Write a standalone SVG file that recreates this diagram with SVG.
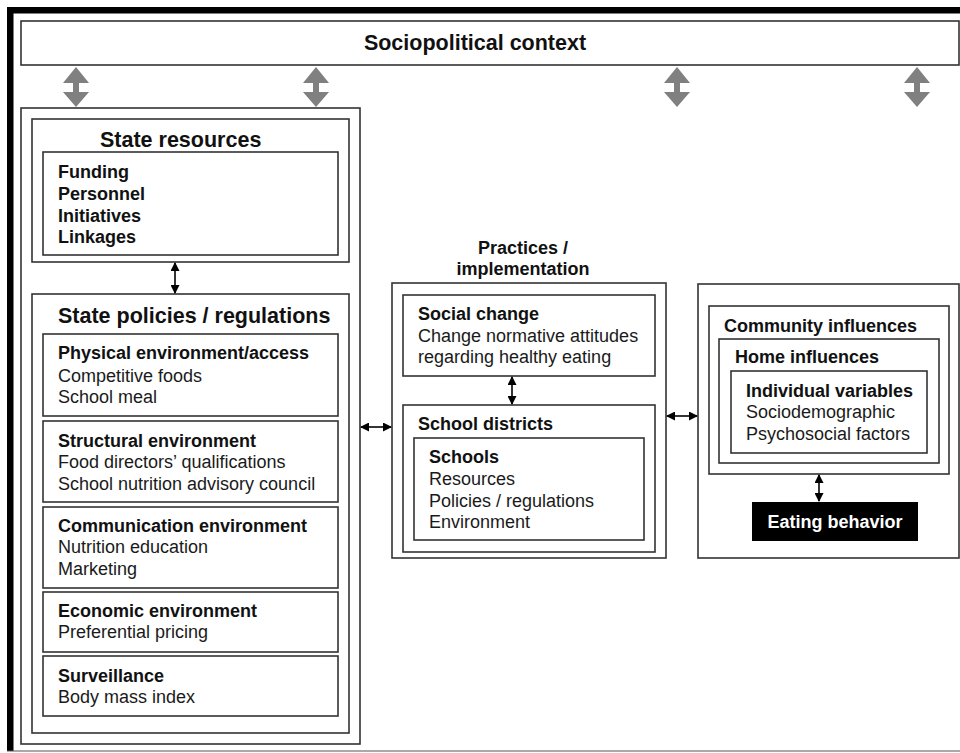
<svg xmlns="http://www.w3.org/2000/svg" width="960" height="753" viewBox="0 0 960 753">
<style>
  text { font-family: "Liberation Sans", Arial, sans-serif; fill: #111; }
  .title { font-size: 21.5px; font-weight: bold; }
  .head { font-size: 18px; font-weight: bold; }
  .body { font-size: 18px; fill: #1a1a1a; }
  .box { fill: #fff; stroke: #333; stroke-width: 1.6; }
  .conn { stroke: #000; stroke-width: 1.6; fill: none; marker-start: url(#ah); marker-end: url(#ah); }
  .gray { fill: #808080; }
</style>
<defs>
  <marker id="ah" markerUnits="userSpaceOnUse" markerWidth="9" markerHeight="9" refX="8" refY="4.5" orient="auto-start-reverse">
    <path d="M0,0 L9,4.5 L0,9 Z" fill="#000"/>
  </marker>
  <path id="garrow" d="M0,67 L13,83 L3,83 L3,92 L13,92 L0,107 L-13,92 L-3,92 L-3,83 L-13,83 Z"/>
</defs>
<rect width="960" height="753" fill="#fff"/>
<g id="frame">
  <rect x="7" y="7" width="953" height="6.5" fill="#000"/>
  <rect x="7" y="7" width="6.5" height="744" fill="#000"/>
  <line x1="7" y1="751" x2="960" y2="751" stroke="#555" stroke-width="1.2"/>
</g>
<g id="sociopolitical">
  <rect class="box" x="21" y="21" width="938" height="44"/>
  <text class="title" x="475" y="50" text-anchor="middle">Sociopolitical context</text>
</g>
<g id="state-column">
  <rect class="box" x="21" y="108" width="339" height="636"/>
</g>
<g id="state-resources">
  <rect class="box" x="32" y="119" width="317" height="143"/>
  <text class="title" x="100" y="147">State resources</text>
  <rect class="box" x="43" y="152" width="295" height="103"/>
  <text class="head" x="58" y="178">Funding</text>
  <text class="head" x="58" y="200">Personnel</text>
  <text class="head" x="58" y="222">Initiatives</text>
  <text class="head" x="58" y="243">Linkages</text>
</g>
<g id="state-policies">
  <rect class="box" x="32" y="294" width="317" height="439"/>
  <text class="title" x="58" y="323">State policies / regulations</text>
</g>
<g id="physical">
  <rect class="box" x="43" y="334" width="295" height="82"/>
  <text class="head" x="58" y="359">Physical environment/access</text>
  <text class="body" x="58" y="382">Competitive foods</text>
  <text class="body" x="58" y="403">School meal</text>
</g>
<g id="structural">
  <rect class="box" x="43" y="421" width="295" height="81"/>
  <text class="head" x="58" y="447">Structural environment</text>
  <text class="body" x="58" y="468">Food directors’ qualifications</text>
  <text class="body" x="58" y="490">School nutrition advisory council</text>
</g>
<g id="communication">
  <rect class="box" x="43" y="507" width="295" height="81"/>
  <text class="head" x="58" y="532">Communication environment</text>
  <text class="body" x="58" y="553">Nutrition education</text>
  <text class="body" x="58" y="575">Marketing</text>
</g>
<g id="economic">
  <rect class="box" x="43" y="592" width="295" height="60"/>
  <text class="head" x="58" y="617">Economic environment</text>
  <text class="body" x="58" y="638">Preferential pricing</text>
</g>
<g id="surveillance">
  <rect class="box" x="43" y="656" width="295" height="60"/>
  <text class="head" x="58" y="682">Surveillance</text>
  <text class="body" x="58" y="703">Body mass index</text>
</g>
<g id="practices">
  <text class="head" x="523" y="254" text-anchor="middle">Practices /</text>
  <text class="head" x="523" y="275" text-anchor="middle">implementation</text>
  <rect class="box" x="392" y="283" width="274" height="275"/>
</g>
<g id="social-change">
  <rect class="box" x="403" y="295" width="252" height="81"/>
  <text class="head" x="418" y="320">Social change</text>
  <text class="body" x="418" y="342">Change normative attitudes</text>
  <text class="body" x="418" y="363">regarding healthy eating</text>
</g>
<g id="school-districts">
  <rect class="box" x="403" y="405" width="252" height="147"/>
  <text class="head" x="418" y="430">School districts</text>
</g>
<g id="schools">
  <rect class="box" x="414" y="438" width="230" height="102"/>
  <text class="head" x="429" y="463">Schools</text>
  <text class="body" x="429" y="485">Resources</text>
  <text class="body" x="429" y="507">Policies / regulations</text>
  <text class="body" x="429" y="528">Environment</text>
</g>
<g id="outcomes">
  <rect class="box" x="698" y="284" width="261" height="274"/>
</g>
<g id="community">
  <rect class="box" x="709" y="306" width="240" height="168"/>
  <text class="head" x="724" y="332">Community influences</text>
</g>
<g id="home">
  <rect class="box" x="719" y="339" width="220" height="124"/>
  <text class="head" x="735" y="363">Home influences</text>
</g>
<g id="individual">
  <rect class="box" x="731" y="371" width="196" height="82"/>
  <text class="head" x="746" y="397">Individual variables</text>
  <text class="body" x="746" y="418">Sociodemographic</text>
  <text class="body" x="746" y="440">Psychosocial factors</text>
</g>
<g id="eating-behavior">
  <rect x="752" y="502" width="166" height="39" fill="#000"/>
  <text class="head" x="835" y="528" text-anchor="middle" style="fill:#fff">Eating behavior</text>
</g>
<g id="connectors">
  <use href="#garrow" x="76" class="gray"/>
  <use href="#garrow" x="316" class="gray"/>
  <use href="#garrow" x="677" class="gray"/>
  <use href="#garrow" x="917" class="gray"/>
  <line class="conn" x1="175" y1="263" x2="175" y2="293"/>
  <line class="conn" x1="361" y1="427" x2="391" y2="427"/>
  <line class="conn" x1="512" y1="377" x2="512" y2="404"/>
  <line class="conn" x1="667" y1="416" x2="697" y2="416"/>
  <line class="conn" x1="819" y1="475" x2="819" y2="501"/>
</g>
</svg>
